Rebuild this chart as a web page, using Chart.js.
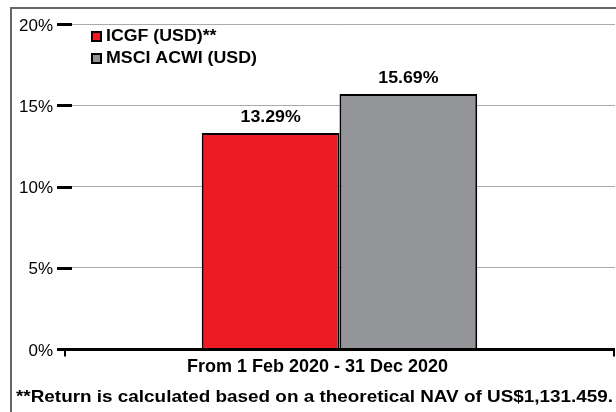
<!DOCTYPE html>
<html>
<head>
<meta charset="utf-8">
<script src="https://cdn.jsdelivr.net/npm/chart.js@4.4.1/dist/chart.umd.min.js"></script>
<style>
html, body { margin: 0; padding: 0; background: #fff; }
</style>
</head>
<body>
<canvas id="chartReturn" width="616" height="412"></canvas>
<script>
// chart data
var categories = ['From 1 Feb 2020 - 31 Dec 2020'];
var seriesNames = ['ICGF (USD)**', 'MSCI ACWI (USD)'];
var icgfValues = [13.29];
var msciValues = [15.69];
var yTicks = [0, 5, 10, 15, 20];
var footnote = '**Return is calculated based on a theoretical NAV of US$1,131.459.';

var FONT = '"Liberation Sans", Arial, sans-serif';

// the original text is a slightly widened Helvetica, so stretch it a bit
function wideText(c, text, x, y, sx) {
    c.save();
    c.translate(x, y);
    c.scale(sx, 1);
    c.fillText(text, 0, 0);
    c.restore();
}

// frame, axis ticks, legend, value labels and footnote
var decor = {
    id: 'decor',
    beforeDraw: function (chart) {
        var c = chart.ctx;
        c.save();
        c.fillStyle = '#fff';
        c.fillRect(0, 0, chart.width, chart.height);
        c.strokeStyle = '#666';
        c.lineWidth = 2;
        c.beginPath();
        c.moveTo(11, chart.height);
        c.lineTo(11, 8);
        c.lineTo(chart.width, 8);
        c.stroke();
        c.restore();
    },
    afterDatasetsDraw: function (chart) {
        var c = chart.ctx, area = chart.chartArea, y = chart.scales.y;
        c.save();
        c.strokeStyle = '#000';
        c.lineWidth = 3;
        yTicks.forEach(function (v) {
            var py = Math.round(y.getPixelForValue(v)) + 0.5;
            c.beginPath();
            c.moveTo(57, py);
            c.lineTo(72, py);
            c.stroke();
        });
        var base = Math.round(y.getPixelForValue(0)) + 0.5;
        c.beginPath();
        c.moveTo(57, base);
        c.lineTo(area.right, base);
        c.stroke();
        c.lineWidth = 2;
        c.beginPath();
        c.moveTo(65, base);
        c.lineTo(65, base + 7);
        c.moveTo(area.right - 1, base);
        c.lineTo(area.right - 1, base + 7);
        c.stroke();

        // value labels
        c.fillStyle = '#000';
        c.font = 'bold 16px ' + FONT;
        c.textAlign = 'center';
        c.textBaseline = 'bottom';
        chart.data.datasets.forEach(function (ds, i) {
            chart.getDatasetMeta(i).data.forEach(function (bar, j) {
                wideText(c, ds.data[j].toFixed(2) + '%', bar.x, bar.y - 7, 1.11);
            });
        });

        // legend
        c.textAlign = 'left';
        c.textBaseline = 'middle';
        chart.data.datasets.forEach(function (ds, i) {
            var ly = 36 + i * 22;
            c.fillStyle = ds.backgroundColor;
            c.fillRect(92, ly - 4, 9, 9);
            c.lineWidth = 2;
            c.strokeStyle = '#000';
            c.strokeRect(92, ly - 4, 9, 9);
            c.fillStyle = '#000';
            wideText(c, ds.label, 106, ly + 1, 1.11);
        });

        // footnote
        c.font = 'bold 16.5px ' + FONT;
        wideText(c, footnote, 16, 397, 1.145);
        c.restore();
    }
};

var ctx = document.getElementById('chartReturn').getContext('2d');
var chartReturn = new Chart(ctx, {
    type: 'bar',
    data: {
        labels: categories,
        datasets: [{
            label: seriesNames[0],
            data: icgfValues,
            backgroundColor: '#ED1C24',
            borderColor: '#000',
            borderWidth: 2,
            categoryPercentage: 0.5,
            barPercentage: 1.0
        }, {
            label: seriesNames[1],
            data: msciValues,
            backgroundColor: '#939598',
            borderColor: '#000',
            borderWidth: 2,
            categoryPercentage: 0.5,
            barPercentage: 1.0
        }]
    },
    options: {
        responsive: false,
        animation: false,
        layout: { padding: { top: 24, right: 1, left: 0, bottom: 0 } },
        plugins: {
            legend: { display: false },
            tooltip: { enabled: false }
        },
        scales: {
            x: {
                grid: { display: false, drawTicks: false },
                border: { display: false },
                ticks: {
                    color: '#000',
                    padding: 7,
                    labelOffset: -22,
                    font: { family: FONT, size: 18, weight: 'bold' }
                },
                afterFit: function (s) { s.height = 63; }
            },
            y: {
                min: 0,
                max: 20,
                afterBuildTicks: function (s) {
                    s.ticks = yTicks.map(function (v) { return { value: v }; });
                },
                grid: { color: '#aaaaaa', lineWidth: 1, drawTicks: false },
                border: { display: false },
                ticks: {
                    color: '#000',
                    padding: 11,
                    labelOffset: 2,
                    font: { family: FONT, size: 17 },
                    callback: function (v) { return v + '%'; }
                },
                afterFit: function (s) { s.width = 64; }
            }
        }
    },
    plugins: [decor]
});
</script>
</body>
</html>
